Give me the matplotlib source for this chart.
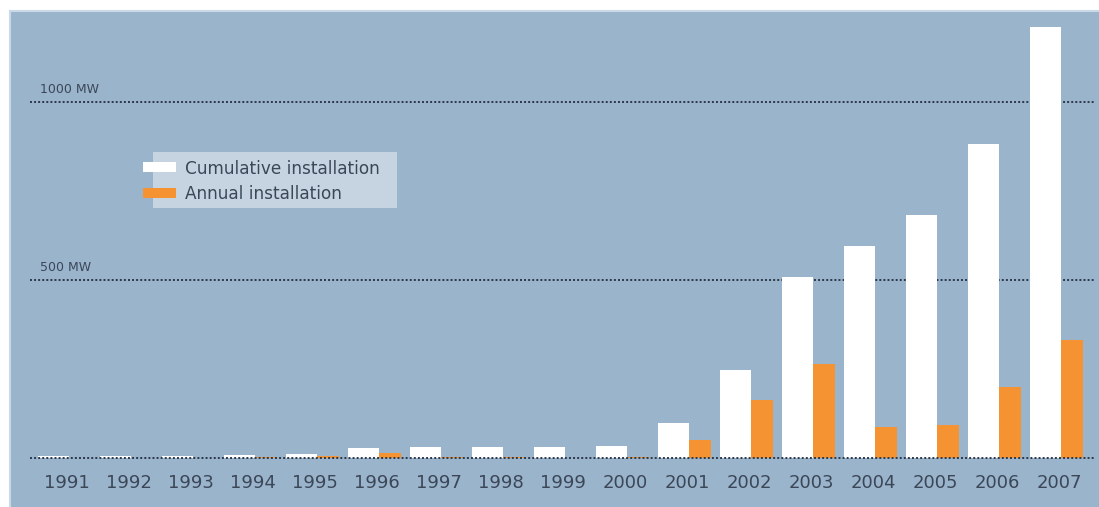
import numpy as np
import matplotlib.pyplot as plt
from matplotlib.patches import Rectangle

# 数据（MW）
years = ['1991', '1992', '1993', '1994', '1995', '1996', '1997', '1998', '1999',
         '2000', '2001', '2002', '2003', '2004', '2005', '2006', '2007']
cumulative = [5, 5, 5, 8, 12, 28, 30, 31, 32, 35, 98, 247, 507, 594, 683, 882, 1210]
annual = [1, 1, 1, 2, 5, 15, 2, 3, 1, 3, 51, 164, 264, 87, 92, 199, 330]
grid_levels = [500, 1000]
grid_labels = ['500 MW', '1000 MW']

bg = '#9ab4cc'
orange = '#f59232'
txt = '#3b4757'
dotc = '#2c3848'

fig = plt.figure(figsize=(10.99, 5.07), dpi=100, facecolor='white')
# 背景面板（右、下边超出画布，只留上、左两条浅色边）
fig.patches.append(Rectangle((10 / 1099, -0.05), 1.05, (507 - 11) / 507 + 0.05,
                             transform=fig.transFigure, facecolor=bg,
                             edgecolor='#c9d9e8', linewidth=1.5, zorder=-10))

ax = fig.add_axes([30 / 1099, 37 / 507, 1065 / 1099, 450 / 507])
ax.set_facecolor('none')
for s in ax.spines.values():
    s.set_visible(False)

x = np.arange(len(years))
ax.bar(x - 0.25, cumulative, width=0.5, color='white', zorder=2)
ax.bar(x + 0.178, annual, width=0.355, color=orange, zorder=2)

ax.axhline(0, color=dotc, linestyle=(0, (1, 1.1)), linewidth=1.4, zorder=3)
for lv, lb in zip(grid_levels, grid_labels):
    ax.axhline(lv, color=dotc, linestyle=(0, (1, 1.1)), linewidth=1.4, zorder=1)
    ax.annotate(lb, xy=(-0.47, lv), xytext=(0, 4), textcoords='offset points',
                fontsize=9, color=txt, va='bottom', ha='left')

ax.set_xlim(-0.629, 16.548)
ax.set_ylim(-33.7, 1230)
ax.set_yticks([])
ax.set_xticks(x - 0.03)
ax.set_xticklabels(years, fontsize=13, color=txt)
ax.tick_params(axis='x', length=0, pad=3)

# 图例
fig.patches.append(Rectangle((153 / 1099, 1 - 208 / 507), 244 / 1099, 56 / 507,
                             transform=fig.transFigure, facecolor='#c6d4e1',
                             edgecolor='none', zorder=4))
fig.patches.append(Rectangle((143 / 1099, 1 - 172 / 507), 33 / 1099, 10 / 507,
                             transform=fig.transFigure, facecolor='white',
                             edgecolor='none', zorder=5))
fig.patches.append(Rectangle((143 / 1099, 1 - 198 / 507), 33 / 1099, 10 / 507,
                             transform=fig.transFigure, facecolor=orange,
                             edgecolor='none', zorder=5))
fig.text(185 / 1099, 1 - 169 / 507, 'Cumulative installation', fontsize=12.2,
         color=txt, va='center', ha='left', zorder=6)
fig.text(185 / 1099, 1 - 194 / 507, 'Annual installation', fontsize=12.2,
         color=txt, va='center', ha='left', zorder=6)

fig.savefig('out.png', dpi=100, facecolor=fig.get_facecolor())
